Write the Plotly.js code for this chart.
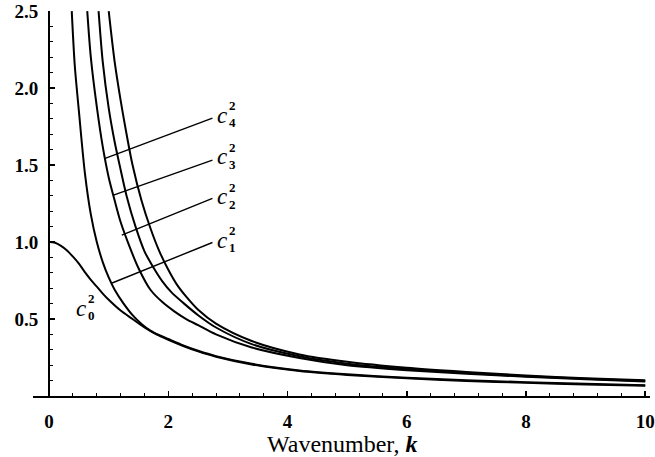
<!DOCTYPE html>
<html>
<head>
<meta charset="utf-8">
<script src="https://cdn.plot.ly/plotly-3.0.1.min.js"></script>
<style>html,body{margin:0;padding:0;background:#fff;}#chart{width:655px;height:457px;}</style>
</head>
<body>
<div id="chart"></div>
<script>
// ---- data ----
const k0 = [0,0.1,0.2,0.3,0.4,0.5,0.6,0.7,0.8,0.9,1.0,1.2,1.4,1.6,1.8,2.0,2.25,2.5,2.8,3.4,4.2,5.0,6.0,7.0,8.0,9.0,10];
const c0 = [1.0,0.995,0.975,0.945,0.905,0.86,0.805,0.755,0.71,0.665,0.625,0.555,0.50,0.445,0.40,0.365,0.325,0.29,0.255,0.205,0.162,0.137,0.115,0.098,0.086,0.075,0.066];

const k1 = [0.38,0.43,0.5,0.6,0.7,0.8,0.9,1.0,1.1,1.25,1.4,1.55,1.7,1.85,2.0,2.25,2.5,2.8,3.4,4.2,5,6,7,8,9,10];
const c1 = [2.5,2.15,1.85,1.45,1.18,1.0,0.87,0.77,0.69,0.60,0.525,0.468,0.425,0.395,0.37,0.329,0.294,0.259,0.209,0.166,0.141,0.119,0.102,0.09,0.079,0.07];

const k2 = [0.64,0.7,0.8,0.9,1.0,1.1,1.2,1.35,1.5,1.7,1.9,2.1,2.3,2.5,2.8,3.4,4.2,5,6,7,8,9,10];
const c2 = [2.5,2.2,1.88,1.62,1.42,1.27,1.13,0.97,0.83,0.69,0.61,0.55,0.5,0.46,0.40,0.315,0.247,0.2,0.168,0.145,0.125,0.108,0.095];

const k3 = [0.83,0.9,1.0,1.1,1.2,1.3,1.45,1.6,1.75,1.9,2.05,2.25,2.5,2.8,3.4,4.2,5,6,7,8,9,10];
const c3 = [2.5,2.17,1.87,1.65,1.47,1.30,1.10,0.94,0.835,0.745,0.675,0.605,0.525,0.445,0.337,0.258,0.21,0.175,0.15,0.128,0.112,0.098];

const k4 = [1.0,1.1,1.2,1.3,1.4,1.55,1.7,1.85,2.0,2.15,2.3,2.5,2.8,3.4,4.2,5,6,7,8,9,10];
const c4 = [2.5,2.17,1.92,1.70,1.50,1.27,1.09,0.94,0.82,0.72,0.645,0.56,0.47,0.357,0.27,0.222,0.183,0.156,0.133,0.116,0.102];

// leader lines (start on curves, end at labels)
const leaderStartK = [1.057,1.22,1.08,0.94];
const leaderStartV = [0.734,1.045,1.305,1.544];
const leaderEndK   = [2.74,2.74,2.74,2.74];
const leaderEndV   = [0.997,1.284,1.532,1.805];

// curve labels
const labelSub = ['0','1','2','3','4'];
const labelK   = [0.55,2.92,2.92,2.92,2.92];
const labelV   = [0.570,1.013,1.294,1.554,1.825];

const xTicks = [0,2,4,6,8,10];
const yTicks = [0.5,1.0,1.5,2.0,2.5];
const yTickText = ['0.5','1.0','1.5','2.0','2.5'];
const xTitle = 'Wavenumber, <b><i>k</i></b>';

// ---- traces ----
const curveLine = {color:'#000', width:2, shape:'spline', smoothing:0.8};
const series = [[k0,c0],[k1,c1],[k2,c2],[k3,c3],[k4,c4]];
const traces = series.map(s => ({x:s[0], y:s[1], type:'scatter', mode:'lines', line:curveLine, hoverinfo:'skip'}));
for (let i=0;i<leaderStartK.length;i++){
  traces.push({x:[leaderStartK[i],leaderEndK[i]], y:[leaderStartV[i],leaderEndV[i]], type:'scatter', mode:'lines',
    line:{color:'#000', width:1.4}, hoverinfo:'skip'});
}

const annotations = [];
for (let i=0;i<labelSub.length;i++){
  // "c" sits left of the anchor point, the stacked superscript 2 / subscript n right of it
  annotations.push({x:labelK[i], y:labelV[i], xref:'x', yref:'y', showarrow:false, text:'<i>c</i>',
    xanchor:'right', xshift:5, borderpad:0, font:{family:'Liberation Serif', size:23, color:'#000'}});
  annotations.push({x:labelK[i], y:labelV[i], xref:'x', yref:'y', showarrow:false,
    text:'<b>2</b><br><b>'+labelSub[i]+'</b>', align:'left',
    xanchor:'left', xshift:5, yshift:1, borderpad:0, font:{family:'Liberation Serif', size:13, color:'#000'}});
}
// x-axis title as a paper annotation so it sits where the reference has it
annotations.push({x:0.5, y:0, xref:'paper', yref:'paper', yanchor:'middle', yshift:-48, showarrow:false,
  borderpad:0, text:xTitle, font:{family:'Liberation Serif', size:24, color:'#000'}});

const tickFont = {family:'Liberation Serif', size:19, color:'#000', weight:'bold'};

const layout = {
  width:655, height:457,
  margin:{l:33, r:5, t:11, b:61},
  paper_bgcolor:'#fff', plot_bgcolor:'#fff',
  showlegend:false,
  xaxis:{
    range:[-0.27,10.08], showgrid:false, zeroline:false,
    showline:true, linecolor:'#000', linewidth:2,
    tickmode:'array', tickvals:xTicks, ticktext:xTicks.map(String),
    ticks:'inside', ticklen:5, tickwidth:1.5, tickcolor:'#000',
    minor:{tickmode:'linear', tick0:0, dtick:0.4, ticks:'inside', ticklen:3, tickwidth:1, tickcolor:'#000'},
    tickfont:tickFont, ticklabelstandoff:7, ticklabeloverflow:'allow'
  },
  yaxis:{
    range:[0,2.501], anchor:'free', position:0.27/10.35,
    showgrid:false, zeroline:false,
    showline:true, linecolor:'#000', linewidth:2,
    tickmode:'array', tickvals:yTicks, ticktext:yTickText,
    ticks:'inside', ticklen:5, tickwidth:1.5, tickcolor:'#000',
    minor:{tickmode:'linear', tick0:0, dtick:0.1, ticks:'inside', ticklen:3, tickwidth:1, tickcolor:'#000'},
    tickfont:tickFont, ticklabelstandoff:6, ticklabeloverflow:'allow'
  },
  annotations:annotations
};

Plotly.newPlot('chart', traces, layout, {staticPlot:true, displayModeBar:false});
</script>
</body>
</html>
